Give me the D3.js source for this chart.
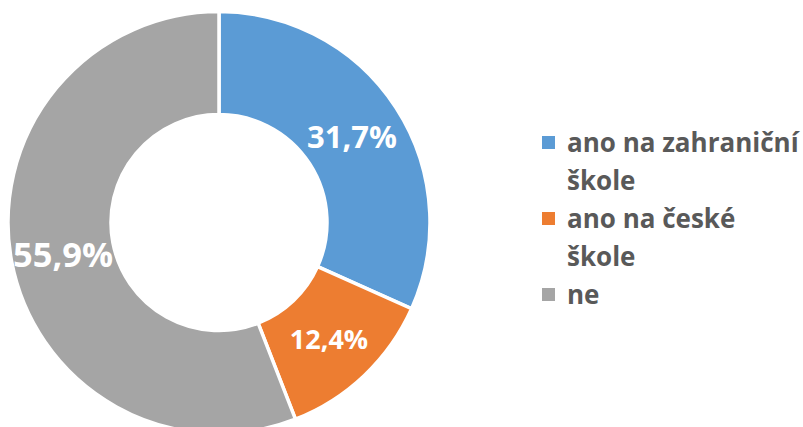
<!DOCTYPE html>
<html><head><meta charset="utf-8">
<script src="https://cdn.jsdelivr.net/npm/d3@7"></script>
<style>html,body{margin:0;padding:0;background:#fff;}svg{display:block;}</style>
</head><body>
<svg id="chart" width="803" height="427"></svg>
<script>
const categories = ["ano na zahraniční škole", "ano na české škole", "ne"];
const legendLines = [["ano na zahraniční", "škole"], ["ano na české", "škole"], ["ne"]];
const values = [31.7, 12.4, 55.9];
const labels = ["31,7%", "12,4%", "55,9%"];
const colors = ["#5B9BD5", "#ED7D31", "#A5A5A5"];
const labelSizes = [31, 27, 34.5];
const labelPos = [[352, 148], [329, 349], [63, 267]];

const svg = d3.select("#chart");
const cx = 219, cy = 222.5, R = 211, r = 108;
const g = svg.append("g").attr("transform", `translate(${cx},${cy})`);
const pie = d3.pie().sort(null).value(d => d)(values);
const arc = d3.arc().innerRadius(r).outerRadius(R);
g.selectAll("path").data(pie).join("path")
  .attr("d", arc).attr("fill", (d, i) => colors[i])
  .attr("stroke", "#fff").attr("stroke-width", 3.5).attr("stroke-linejoin", "miter");

svg.selectAll("text.lbl").data(labels).join("text").attr("class", "lbl")
  .attr("x", (d, i) => labelPos[i][0]).attr("y", (d, i) => labelPos[i][1])
  .attr("text-anchor", "middle")
  .attr("font-family", "'Open Sans', sans-serif").attr("font-weight", "bold")
  .attr("font-size", (d, i) => labelSizes[i]).attr("fill", "#fff").text(d => d);

const lg = svg.append("g");
let y = 152;
legendLines.forEach((lines, i) => {
  lg.append("rect").attr("x", 542).attr("y", y - 16).attr("width", 13).attr("height", 13).attr("fill", colors[i]);
  lines.forEach(line => {
    lg.append("text").attr("x", 567).attr("y", y)
      .attr("font-family", "'Open Sans', sans-serif").attr("font-weight", "bold")
      .attr("font-size", 26).attr("fill", "#595959").text(line);
    y += 38;
  });
});
</script>
</body></html>
